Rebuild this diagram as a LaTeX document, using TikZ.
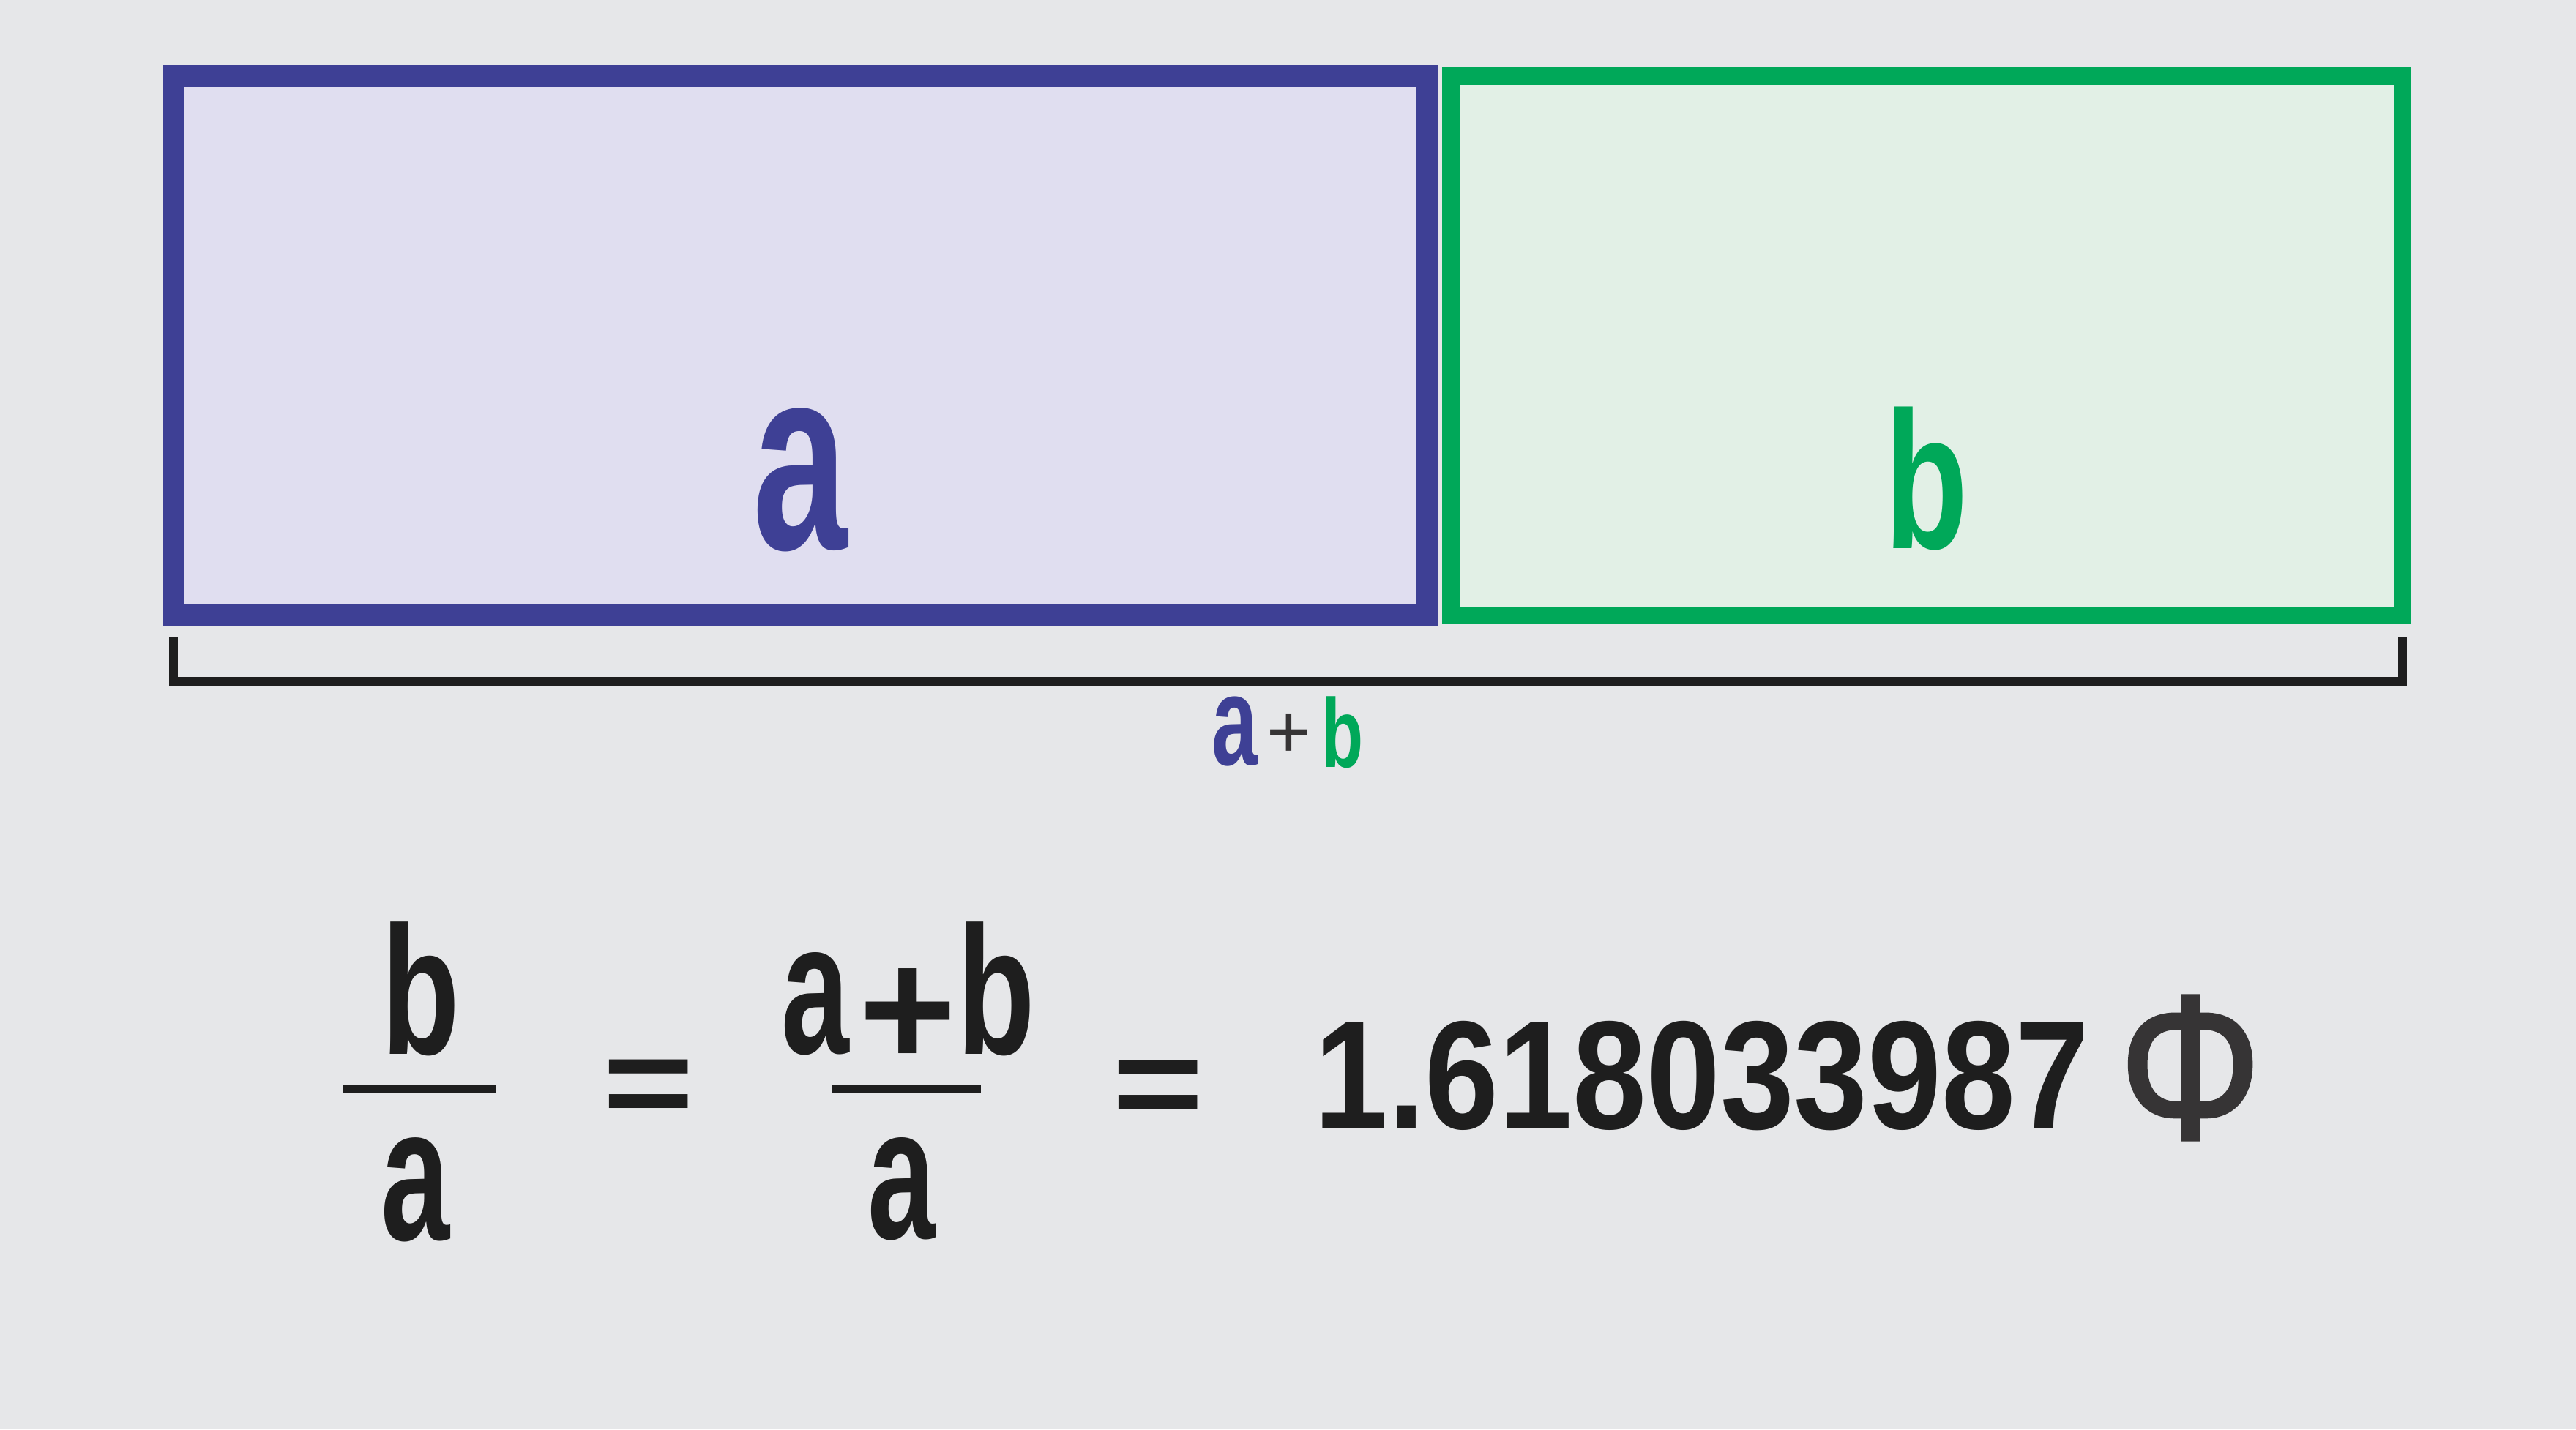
\documentclass[tikz,border=0pt]{standalone}
\usepackage{tikz}
\usepackage{fontspec}
\newfontfamily\condafont{Liberation Sans}[FakeStretch=0.65]
\newfontfamily\condbfont{Liberation Sans}[FakeStretch=0.70]
\newfontfamily\numfont{Liberation Sans}[FakeStretch=0.86]
\newfontfamily\plainfont{Liberation Sans}
\newfontfamily\phifont{Liberation Sans}[FakeBold=1.6]
\definecolor{backgr}{HTML}{E6E7E9}
\definecolor{ablue}{HTML}{3E4095}
\definecolor{afill}{HTML}{E0DEF0}
\definecolor{bgreen}{HTML}{00A859}
\definecolor{bfill}{HTML}{E2F0E6}
\definecolor{inkblack}{HTML}{1E1E1E}
\definecolor{plusgray}{HTML}{363435}
\def\glyphsize#1{\fontsize{#1}{#1}\selectfont}
\tikzset{
  lettera/.style={inner sep=0pt, outer sep=0pt, font=\condafont\bfseries\glyphsize{#1}},
  letterb/.style={inner sep=0pt, outer sep=0pt, font=\condbfont\bfseries\glyphsize{#1}},
  sign/.style={inner sep=0pt, outer sep=0pt, font=\plainfont\bfseries\glyphsize{#1}, text=inkblack},
  fracbar/.style={draw=inkblack, line width=0.11cm}
}

\begin{document}
\begin{tikzpicture}
		%%%%% BACKGROUND %%%%%
		\fill[backgr] (0, 0) rectangle (35.19, 19.53);
		\useasboundingbox (0, 0) rectangle (35.19, 19.53);
		
		%%%%% RECTANGLES %%%%%
		\draw[ablue, fill=afill, line width=0.30cm] (2.37, 11.12) rectangle (19.49, 18.49);
		\draw[bgreen, fill=bfill, line width=0.24cm] (19.82, 11.12) rectangle (32.82, 18.49);
		
		\node[lettera=102pt, text=ablue] (lblA) at (10.93, 12.97) {a};
		\node[letterb=76pt, text=bgreen] (lblB) at (26.32, 12.985) {b};
		
		%%%%% BRACKET %%%%%
		\draw[inkblack, line width=0.12cm] (2.37, 10.82) -- (2.37, 10.225) -- (32.82, 10.225) -- (32.82, 10.82);
		
		\node[lettera=49.5pt, text=ablue] (sumA) at (16.87, 9.53) {a};
		\node[inner sep=0pt, font=\plainfont\glyphsize{29.6pt}, text=plusgray] (sumPlus) at (17.61, 9.48) {+};
		\node[letterb=38pt, text=bgreen] (sumB) at (18.34, 9.52) {b};
		
		%%%%% EQUATION %%%%%
		\node[letterb=71pt, text=inkblack] (numB) at (5.75, 6.02) {b};
		\draw[fracbar] (4.69, 4.655) -- (6.78, 4.655);
		\node[lettera=74pt, text=inkblack] (denA) at (5.68, 3.27) {a};
		
		\node[sign=61pt] (eqOne) at (8.86, 4.59) {\scalebox{1}[0.82]{=}};
		
		\node[lettera=73pt, text=inkblack] (numA) at (11.14, 5.815) {a};
		\node[sign=65pt] (numPlus) at (12.40, 5.62) {+};
		\node[letterb=71pt, text=inkblack] (numBB) at (13.61, 6.02) {b};
		\draw[fracbar] (11.36, 4.655) -- (13.40, 4.655);
		\node[lettera=73pt, text=inkblack] (denAA) at (12.32, 3.28) {a};
		
		\node[sign=61pt] (eqTwo) at (15.82, 4.58) {\scalebox{1}[0.82]{=}};
		
		\node[inner sep=0pt, font=\numfont\bfseries\glyphsize{60pt}, text=inkblack] (ratio) at (23.25, 4.83) {1.618033987};
		\node[inner sep=0pt, font=\phifont\glyphsize{77pt}, text=plusgray] (phi) at (29.92, 4.94) {\scalebox{0.9}[1.04]{Φ}};
		%%%%% END %%%%%
	\end{tikzpicture}
\end{document}
